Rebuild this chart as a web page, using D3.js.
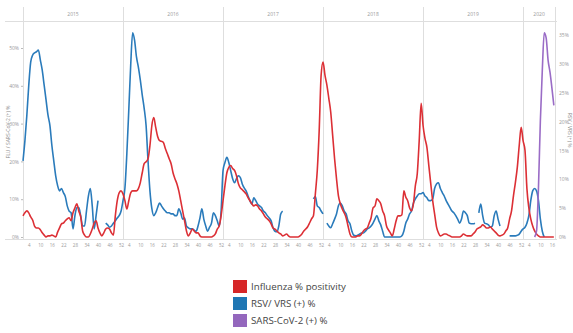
<!DOCTYPE html>
<html><head><meta charset="utf-8">
<script src="https://cdn.jsdelivr.net/npm/d3@7"></script>
<style>body{margin:0;background:#fff}</style>
</head><body><svg id="c" width="573" height="333"></svg>
<script>
// ---- data ----
const years = ["2015","2016","2017","2018","2019","2020"];
const weeksPerYear = [52,52,52,52,52,17];
const weekTicks = [4,10,16,22,28,34,40,46,52];
const weekTicks2020 = [4,10,16];
const leftTicks = [0,10,20,30,40,50];
const rightTicks = [0,5,10,15,20,25,30,35];
const seriesNames = ["Influenza % positivity","RSV/ VRS (+) %","SARS-CoV-2 (+) %"];
const legendColors = ["#d62728","#1f77b4","#9467bd"];
const lineColors = ["#dc2f35","#2a7bbb","#9a6cc6"];
const leftTitle = "FLU / SARS-CoV-2 (+) %";
const rightTitle = "RSV / VRS (+) %";

// Influenza % positivity (left axis), weekly, one array per year
const fluByYear = [
 [5.6,6.4,6.9,6.4,5.3,4.5,2.9,2.4,2.4,1.9, 1.1,0.5,0,0.3,0.3,0.5,0.3,0,1.3,2.4, 3.5,3.7,4.3,4.8,5.1,4.3,6.4,7.7,8.8,6.9, 5.3,1.6,0.5,0,0,0.8,2.1,3.7,4.3,2.4, 1.1,0.3,1.1,2.1,2.4,2.1,1.1,0.5,5.6,9.6,11.7,12.2],
 [11.4,9.6,7.4,9.6,11.7,12.2,12.2,12.2,12.8,14.4, 17.0,19.4,19.9,20.7,24.2,29.5,31.6,29.0,26.6,25.5, 25.3,25.0,23.4,22.1,20.7,19.4,17.0,15.4,14.1,12.2, 9.6,6.9,4.3,1.6,0.3,1.1,2.1,1.6,1.1,1.1, 0.3,0,0,0,0,0,0,0.3,0.8,2.1,2.9,5.6],
 [9.6,13.6,17.0,18.4,18.9,18.1,17.6,16.2,14.1,13.0, 12.5,12.0,11.4,10.4,9.6,8.8,8.2,8.5,8.2,7.4, 6.9,6.1,5.3,4.8,4.3,3.5,2.4,2.1,1.6,1.1, 0.8,0.3,0.5,0.8,0.3,0,0,0,0,0, 0.3,0.8,1.6,2.1,2.7,3.7,4.8,5.6,11.4,17.6,28.2,42.8],
 [46.3,42.8,40.2,36.7,33.0,26.9,20.7,15.4,10.9,8.8, 7.4,6.4,5.1,2.9,0.8,0,0,0,0.3,0.3, 0.8,1.6,2.1,2.4,3.7,5.1,7.7,8.2,10.1,9.6, 8.8,6.9,5.6,2.9,1.9,1.1,0.3,2.1,4.3,5.6, 5.6,5.9,12.2,10.6,9.6,7.7,6.9,8.8,13.6,16.8,25.5,35.4],
 [29.5,26.1,23.7,18.9,14.1,9.6,6.1,2.7,1.1,0.3, 0.5,0.8,0.8,0.5,0.3,0,0,0,0,0, 0.3,0.8,0.5,0.3,0.3,0.3,0.8,1.3,2.1,2.4, 2.7,3.2,2.9,2.4,2.4,2.7,2.1,1.6,1.1,0.5, 0.3,0.5,0.8,1.6,2.4,4.8,6.9,10.9,14.4,18.4,24.2,29.0],
 [25.5,22.9,12.8,7.7,4.8,2.9,1.6,0.8,0.3,0, 0,0,0,0,0,0,0]
];

// RSV (+) % (right axis), weekly; null = no report
const rsvByYear = [
 [13.2,16.7,21.1,26.3,30.3,31.5,31.9,32.1,32.4,30.7, 28.9,26.3,23.7,21.1,19.3,15.9,13.2,10.6,8.9,8.0, 8.4,7.7,7.0,5.4,4.5,4.2,1.4,3.7,5.1,5.1, 3.7,1.9,1.9,4.5,7.1,8.4,5.4,1.4,3.7,6.3, null,null,null,2.4,2.1,1.7,1.9,2.4,2.8,3.3,3.7,4.5],
 [6.3,8.5,14.5,22.0,29.8,35.4,34.1,31.2,29.4,27.2, 24.6,22.3,19.3,13.2,8.0,4.9,3.7,4.2,5.1,5.9, 5.4,4.9,4.5,4.2,4.2,4.0,4.0,3.7,3.7,4.9, 4.2,3.1,3.3,1.9,1.6,1.4,1.4,1.2,1.0,1.9, 3.3,4.9,3.1,1.9,1.0,1.7,2.4,4.2,3.7,2.8,1.9,4.5],
 [11.5,12.9,13.8,12.9,11.5,10.1,9.4,10.1,10.6,10.3, 9.2,8.5,8.0,7.1,6.3,5.7,6.8,6.3,5.7,5.4, 5.1,4.5,4.2,3.7,3.3,2.8,1.6,1.0,0.9,1.9, 4.0,4.5,null,null,null,null,null,null,null,null, null,null,null,null,null,null,null,6.6,7.0,5.4,5.1,4.5],
 [4.0,null,2.4,1.9,1.6,2.3,3.1,4.0,5.4,5.9, 5.4,4.5,4.0,2.8,2.3,1.0,0.3,0.2,0.3,0.5, 0.7,0.7,1.0,1.4,1.6,1.9,2.4,3.1,3.7,2.8, 2.1,1.0,0,0,0,0,0,0,0,0, 0,0.2,1.0,2.4,3.1,4.0,4.5,5.9,6.6,7.1,7.5,7.5],
 [7.7,7.1,6.8,6.3,6.3,6.6,8.4,9.2,9.4,8.4, 7.7,7.1,6.3,5.7,5.1,4.5,4.2,3.7,3.1,2.4, 3.1,4.5,4.2,3.7,2.4,2.3,2.3,2.4,null,4.2, 5.7,3.7,2.4,2.3,2.1,1.7,1.9,3.7,4.5,3.1, 1.9,null,null,null,null,0.2,0.2,0.2,0.2,0.3,0.5,1.0],
 [1.4,1.7,2.4,3.7,6.3,8.0,8.4,8.0,6.3,3.1, 1.0,0,null,null,null,null,null]
];

// SARS-CoV-2 (+) % (left axis), 2020 only
const sarsByYear = [
 [],[],[],[],[],
 [null,null,null,null,null,null,0,1.6,13.0,30.9, 44.1,54.0,52.7,46.8,43.6,39.4,34.8]
];

// ---- chart ----
const svg = d3.select("#c");
const plotLeft = 23, plotRight = 555, zeroY = 237;
const totalWeeks = 52*5 + 16.6;
const x = d3.scaleLinear().domain([0, totalWeeks]).range([plotLeft, plotRight]);
const yL = d3.scaleLinear().domain([0, 50]).range([zeroY, 48]);
const yR = d3.scaleLinear().domain([0, 35]).range([zeroY, 35]);

function flatten(byYear){
  const out = [];
  byYear.forEach((arr, k) => arr.forEach((v, i) => out.push({idx: k*52 + i, v})));
  return out;
}

const tickFont = "Open Sans, sans-serif";
const tickColor = "#999";
const gridColor = "#dedede";

// header line + year labels
svg.append("line").attr("x1",5).attr("x2",557).attr("y1",21.5).attr("y2",21.5)
  .attr("stroke",gridColor).attr("stroke-width",1.2);
const seps = years.map((y,k)=>x(k*52)).concat([plotRight]);
svg.selectAll(".sep").data(seps).enter().append("line")
  .attr("x1",d=>Math.round(d)+0.5).attr("x2",d=>Math.round(d)+0.5)
  .attr("y1",7).attr("y2",240).attr("stroke",gridColor).attr("stroke-width",1);
svg.selectAll(".yr").data(years).enter().append("text")
  .attr("x",(d,k)=>(x(k*52) + (k<5 ? x(k*52+52) : plotRight))/2)
  .attr("y",16).attr("text-anchor","middle")
  .attr("font-family",tickFont).attr("font-size",5).attr("fill",tickColor)
  .text(d=>d);

// bottom axis line
svg.append("line").attr("x1",5).attr("x2",557).attr("y1",239.5).attr("y2",239.5)
  .attr("stroke",gridColor).attr("stroke-width",1.2);

// x week labels
const xTickIdx = [], xTickLab = new Map();
years.forEach((y,k)=>{
  (k<5?weekTicks:weekTicks2020).forEach(w=>{ const i=k*52+w-1; xTickIdx.push(i); xTickLab.set(i, w); });
});
const gx = svg.append("g").attr("transform",`translate(0,${zeroY+4})`)
  .call(d3.axisBottom(x).tickValues(xTickIdx).tickFormat(d=>xTickLab.get(d)).tickSize(0));
gx.select(".domain").remove();
gx.selectAll("text").attr("font-family",tickFont).attr("font-size",4.5).attr("fill",tickColor);

// left axis
const gl = svg.append("g").attr("transform",`translate(${plotLeft},0)`)
  .call(d3.axisLeft(yL).tickValues(leftTicks).tickFormat(d=>d+"%").tickSize(2).tickPadding(2));
gl.select(".domain").remove();
gl.selectAll("line").attr("stroke","#bbb");
gl.selectAll("text").attr("font-family",tickFont).attr("font-size",5).attr("fill",tickColor);

// right axis
const gr = svg.append("g").attr("transform",`translate(${plotRight},0)`)
  .call(d3.axisRight(yR).tickValues(rightTicks).tickFormat(d=>d+"%").tickSize(0).tickPadding(4));
gr.select(".domain").remove();
gr.selectAll("text").attr("font-family",tickFont).attr("font-size",5).attr("fill",tickColor);

// axis titles
svg.append("text").attr("transform","translate(10,132) rotate(-90)")
  .attr("text-anchor","middle").attr("font-family",tickFont).attr("font-size",5).attr("fill","#888")
  .text(leftTitle);
svg.append("text").attr("transform","translate(568,130) rotate(90)")
  .attr("text-anchor","middle").attr("font-family",tickFont).attr("font-size",5).attr("fill","#888")
  .text(rightTitle);

// lines
const lineL = d3.line().defined(d=>d.v!=null).x(d=>x(d.idx)).y(d=>yL(d.v)).curve(d3.curveMonotoneX);
const lineR = d3.line().defined(d=>d.v!=null).x(d=>x(d.idx)).y(d=>yR(d.v)).curve(d3.curveMonotoneX);

svg.append("path").datum(flatten(rsvByYear)).attr("d",lineR)
  .attr("fill","none").attr("stroke",lineColors[1]).attr("stroke-width",1.6).attr("stroke-linejoin","round");
svg.append("path").datum(flatten(fluByYear)).attr("d",lineL)
  .attr("fill","none").attr("stroke",lineColors[0]).attr("stroke-width",1.6).attr("stroke-linejoin","round");
svg.append("path").datum(flatten(sarsByYear)).attr("d",lineL)
  .attr("fill","none").attr("stroke",lineColors[2]).attr("stroke-width",1.6).attr("stroke-linejoin","round");

// legend
const lg = svg.append("g").attr("transform","translate(233,280)");
seriesNames.forEach((n,i)=>{
  lg.append("rect").attr("x",0).attr("y",i*17).attr("width",14).attr("height",13).attr("fill",legendColors[i]);
  lg.append("text").attr("x",18).attr("y",i*17+10).attr("font-family","Open Sans, sans-serif")
    .attr("font-size",9.7).attr("fill","#444").text(n);
});
</script></body></html>
